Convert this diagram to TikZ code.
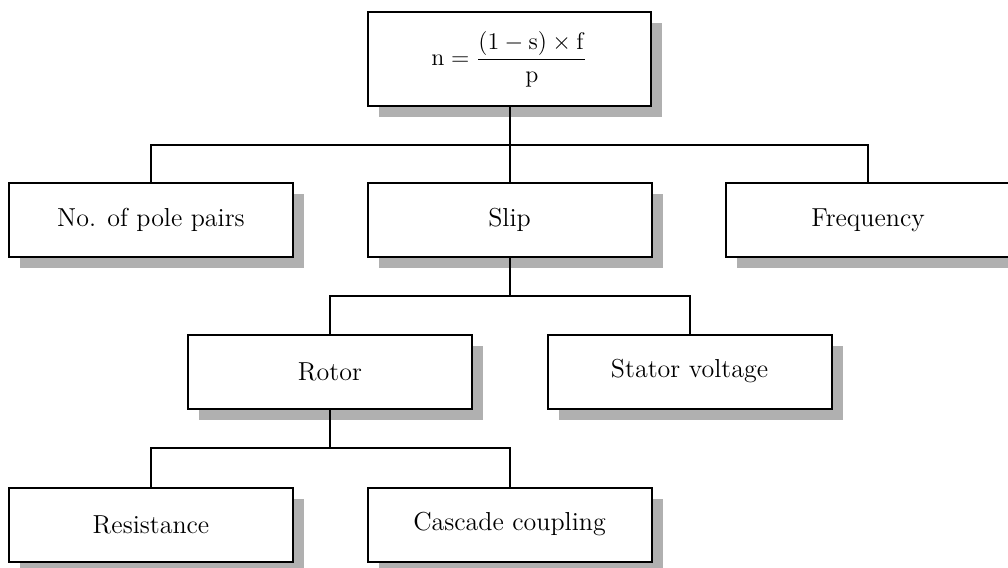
\documentclass[tikz,border=0pt]{standalone}
\usepackage{amsmath}
\usetikzlibrary{shadows}
\definecolor{shadowgray}{RGB}{176,176,176}

\begin{document}
\begin{tikzpicture}[x=0.5pt, y=-0.5pt,
    font=\fontsize{13}{15.5}\selectfont,
    box/.style={draw=black, line width=1pt, fill=white,
        minimum width=142pt, minimum height=37pt, inner sep=0pt,
        drop shadow={shadow xshift=5.5pt, shadow yshift=-5.5pt,
            fill=shadowgray, opacity=1}},
    link/.style={line width=1pt}]
\useasboundingbox (0,0) rectangle (1008,568);
    \node[box, minimum width=141.5pt, minimum height=47pt] (formula) at (509.5,59)
        {$\mathrm{n} = \dfrac{(1 - \mathrm{s}) \times \mathrm{f}}{\mathrm{p}}$};
    \node[box] (poles) at (151,220) {No. of pole pairs};
    \node[box] (slip) at (509.5,220) {Slip};
    \node[box] (freq) at (868,220) {Frequency};
    \node[box] (rotor) at (330,371.5) {Rotor};
    \node[box] (stator) at (689.5,371.5) {Stator voltage};
    \node[box] (resist) at (151,524.5) {Resistance};
    \node[box] (cascade) at (509.5,524.5) {Cascade coupling};
    % tree lines
    \path (formula.south) -- (formula.south |- slip.north) coordinate[midway] (j1);
    \draw[link] (formula.south) -- (j1);
    \draw[link] (poles.north) |- (j1) -| (freq.north);
    \draw[link] (j1) -- (slip.north);
    \path (slip.south) -- (slip.south |- rotor.north) coordinate[midway] (j2);
    \draw[link] (slip.south) -- (j2);
    \draw[link] (rotor.north) |- (j2) -| (stator.north);
    \path (rotor.south) -- (rotor.south |- resist.north) coordinate[midway] (j3);
    \draw[link] (rotor.south) -- (j3);
    \draw[link] (resist.north) |- (j3) -| (cascade.north);
\end{tikzpicture}
\end{document}
